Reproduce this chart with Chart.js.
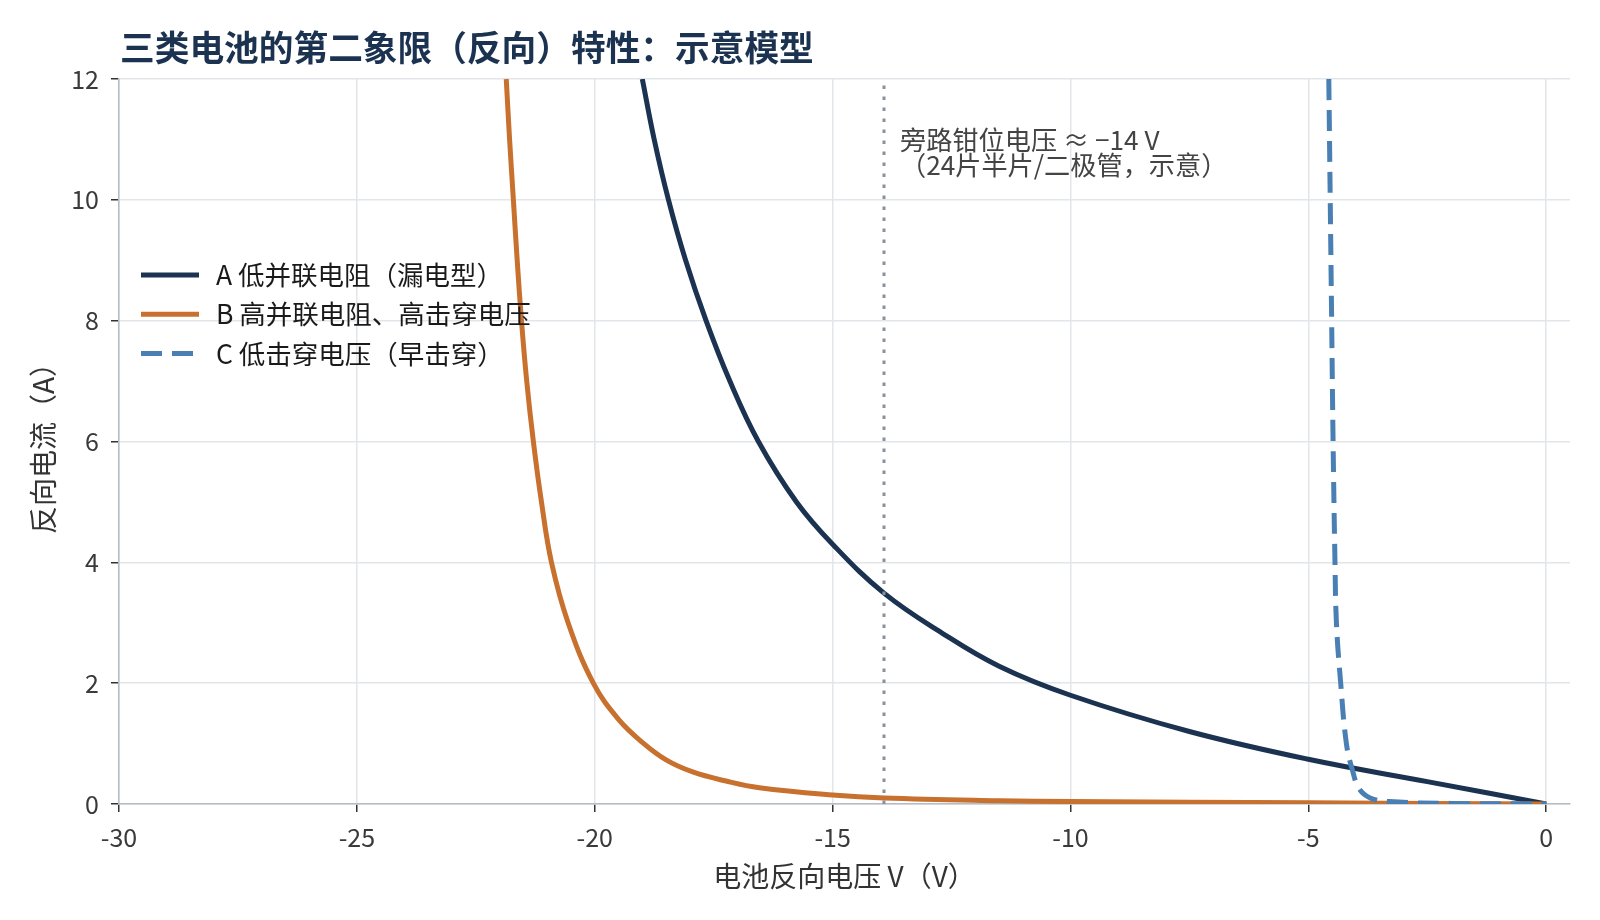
<!DOCTYPE html>
<html>
<head>
<meta charset="utf-8">
<script src="https://cdn.jsdelivr.net/npm/chart.js@4.4.1/dist/chart.umd.min.js"></script>
<style>
  body { margin: 0; background: #fff; }
  #wrap { width: 1600px; height: 920px; }
</style>
</head>
<body>
<div id="wrap"><canvas id="myChart"></canvas></div>
<script>
// values (V, A)
const voltsA = [-19.0, -18.75, -18.45, -18.09, -17.66, -17.16, -16.56, -15.76, -15.0, -13.92, -12.7, -11.5, -10, -7.5, -5, -2.5, 0];
const ampsA  = [12.0, 11.0, 10.0, 9.0, 8.0, 7.0, 6.0, 5.0, 4.3, 3.49, 2.83, 2.28, 1.80, 1.20, 0.74, 0.37, 0];

const voltsB = [-21.86, -21.79, -21.71, -21.63, -21.54, -21.43, -21.29, -21.12, -20.91, -20.56, -20.03, -19.5, -19.0, -18.5, -17.94, -17.24, -16.54, -15.0, -13.92, -11.5, -10, -5, 0];
const ampsB  = [12, 11, 10, 9, 8, 7, 6, 5, 4, 3, 2, 1.4, 1.02, 0.73, 0.53, 0.38, 0.27, 0.15, 0.10, 0.055, 0.04, 0.02, 0];

const voltsC = [-4.57, -4.54, -4.51, -4.48, -4.44, -4.41, -4.32, -4.2, -4.07, -3.93, -3.7, -3.3, -2, 0];
const ampsC  = [12, 10, 8, 6, 4, 3, 2, 1, 0.55, 0.25, 0.1, 0.04, 0.01, 0];

const clampVoltage = -13.92;
const xTicks = [-30, -25, -20, -15, -10, -5, 0];
const yTicks = [0, 2, 4, 6, 8, 10, 12];

const titleText = "三类电池的第二象限（反向）特性：示意模型";
const seriesNames = ["A 低并联电阻（漏电型）", "B 高并联电阻、高击穿电压", "C 低击穿电压（早击穿）"];
const seriesColors = ["#1b3350", "#c8702e", "#4a7fb4"];
const noteLines = ["旁路钳位电压 ≈ −14 V", "（24片半片/二极管，示意）"];

const blueDash = [21, 10];
const curveWidth = 5;

function toPoints(xs, ys) {
    return xs.map((x, i) => ({ x: x, y: ys[i] }));
}

Chart.defaults.font.family = '"Noto Sans CJK SC", "Noto Sans", sans-serif';

const overlay = {
    id: 'overlay',
    afterDraw(chart) {
        const ctx = chart.ctx;
        const area = chart.chartArea;
        ctx.save();
        ctx.textBaseline = 'middle';
        ctx.textAlign = 'left';

        // title
        ctx.font = 'bold 34.7px "Noto Sans CJK SC"';
        ctx.fillStyle = '#1b3350';
        ctx.fillText(titleText, area.left + 1, 48);

        // note next to the clamp line
        const nx = chart.scales.x.getPixelForValue(clampVoltage) + 16;
        ctx.font = '26.2px "Noto Sans CJK SC"';
        ctx.fillStyle = '#444';
        ctx.fillText(noteLines[0], nx, 140);
        ctx.fillText(noteLines[1], nx, 165.5);

        // legend
        ctx.font = '26.5px "Noto Sans CJK SC"';
        seriesNames.forEach((name, i) => {
            const y = 275 + i * 39.3;
            ctx.beginPath();
            ctx.setLineDash(i === 2 ? blueDash : []);
            ctx.lineWidth = curveWidth;
            ctx.strokeStyle = seriesColors[i];
            ctx.moveTo(area.left + 22, y);
            ctx.lineTo(area.left + 80, y);
            ctx.stroke();
            ctx.setLineDash([]);
            ctx.fillStyle = '#1a1a1a';
            ctx.fillText(name, area.left + 97, y);
        });
        ctx.restore();
    }
};

const ctx = document.getElementById('myChart');

const myChart = new Chart(ctx, {
    type: 'line',
    data: {
        datasets: [
            {
                data: [{ x: clampVoltage, y: 0 }, { x: clampVoltage, y: 12 }],
                borderColor: "#8a919c",
                borderWidth: 3,
                borderDash: [3.5, 7.5],
                pointRadius: 0
            },
            {
                data: toPoints(voltsC, ampsC),
                borderColor: seriesColors[2],
                borderWidth: curveWidth,
                borderDash: blueDash,
                tension: 0.4,
                pointRadius: 0
            },
            {
                data: toPoints(voltsB, ampsB),
                borderColor: seriesColors[1],
                borderWidth: curveWidth,
                tension: 0.4,
                pointRadius: 0
            },
            {
                data: toPoints(voltsA, ampsA),
                borderColor: seriesColors[0],
                borderWidth: curveWidth,
                tension: 0.4,
                pointRadius: 0
            }
        ]
    },
    options: {
        responsive: true,
        maintainAspectRatio: false,
        animation: false,
        layout: { padding: { top: 79, right: 30, bottom: 0, left: 0 } },
        plugins: {
            legend: { display: false },
            tooltip: { enabled: false }
        },
        scales: {
            x: {
                type: 'linear',
                min: -30,
                max: 0.5,
                afterBuildTicks: (scale) => { scale.ticks = xTicks.map(v => ({ value: v })); },
                afterFit: (scale) => { scale.height = 116; },
                ticks: {
                    color: '#3a3a3a',
                    font: { size: 25 },
                    padding: 10,
                    callback: (v) => String(v)
                },
                grid: { color: '#e2e5ea', lineWidth: 1.5, tickLength: 8, tickColor: '#333', tickWidth: 1.5 },
                border: { color: '#b4bcc8', width: 1.5 },
                title: {
                    display: true,
                    text: '电池反向电压 V（V）',
                    color: '#333',
                    font: { size: 28 },
                    padding: { top: 0, bottom: 27 }
                }
            },
            y: {
                min: 0,
                max: 12,
                afterBuildTicks: (scale) => { scale.ticks = yTicks.map(v => ({ value: v })); },
                afterFit: (scale) => { scale.width = 119; },
                ticks: {
                    color: '#3a3a3a',
                    font: { size: 25 },
                    padding: 12
                },
                grid: { color: '#e2e5ea', lineWidth: 1.5, tickLength: 8, tickColor: '#333', tickWidth: 1.5 },
                border: { color: '#b4bcc8', width: 1.5 },
                title: {
                    display: true,
                    text: '反向电流（A）',
                    color: '#333',
                    font: { size: 28 },
                    padding: { top: 27, bottom: 0 }
                }
            }
        }
    },
    plugins: [overlay]
});
</script>
</body>
</html>
